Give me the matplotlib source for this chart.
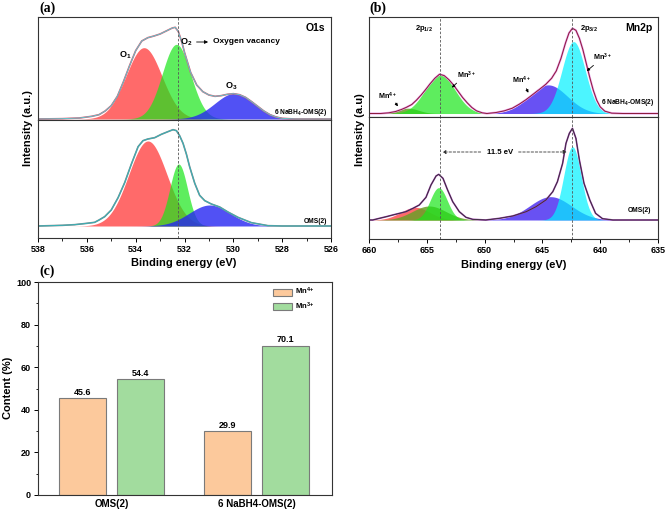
import numpy as np
import matplotlib.pyplot as plt
from matplotlib.ticker import MultipleLocator

plt.rcParams['font.family'] = 'Liberation Sans'
plt.rcParams['font.weight'] = 'bold'
plt.rcParams['mathtext.fontset'] = 'custom'
plt.rcParams['mathtext.rm'] = 'Liberation Sans:bold'
plt.rcParams['mathtext.it'] = 'Liberation Sans:bold'
plt.rcParams['mathtext.bf'] = 'Liberation Sans:bold'

# ---- O1s fitted components: centre (eV), height (a.u.), sigma (eV)
o1s_top_centre = [533.66, 532.33, 529.95]
o1s_top_height = [214, 224, 77]
o1s_top_sigma = [0.73, 0.58, 0.81]
o1s_bot_centre = [533.50, 532.24, 530.97]
o1s_bot_height = [255, 186, 63]
o1s_bot_sigma = [0.78, 0.36, 0.84]

# O1s envelopes
o1s_top_e = [538.0, 537.0, 536.3, 535.8, 535.5, 535.25, 535.0, 534.75, 534.5, 534.25,
             534.0, 533.75, 533.5, 533.25, 533.0, 532.75, 532.5, 532.38, 532.25, 532.1,
             532.0, 531.75, 531.5, 531.25, 531.0, 530.75, 530.5, 530.25, 530.0, 529.75,
             529.5, 529.25, 529.0, 528.75, 528.5, 528.25, 528.0, 527.5, 526.0]
o1s_top_i = [0, 1, 3, 8, 13, 24, 40, 68, 112, 160,
             205, 234, 244, 249, 255, 264, 273, 275, 262, 228,
             200, 140, 102, 82, 72, 68, 70, 74, 76, 73,
             65, 52, 38, 24, 13, 6, 2, 0, 0]
o1s_bot_e = [538.0, 537.0, 536.5, 536.0, 535.68, 535.5, 535.27, 535.0, 534.72, 534.45,
             534.18, 533.9, 533.7, 533.5, 533.22, 532.95, 532.68, 532.47, 532.33, 532.2,
             532.06, 531.92, 531.79, 531.58, 531.38, 531.17, 530.9, 530.56, 530.22, 529.81,
             529.26, 528.58, 528.0, 526.0]
o1s_bot_i = [0, 2, 4, 8, 11, 18, 28, 48, 85, 130,
             185, 238, 256, 261, 265, 275, 283, 289, 286, 271,
             248, 215, 178, 128, 92, 76, 66, 57, 42, 26,
             10, 1, 0, 0]

# ---- Mn2p fitted components
mn_top_centre = [656.6, 653.85, 644.5, 642.3]
mn_top_height = [16, 116, 86, 216]
mn_top_sigma = [0.9, 1.3, 1.65, 1.0]
mn_bot_centre = [656.0, 654.8, 653.97, 644.3, 642.4]
mn_bot_height = [38, 42, 97, 70, 220]
mn_bot_sigma = [1.25, 1.45, 0.74, 1.8, 0.75]

mn_top_e = [660.0, 659.0, 658.3, 657.7, 657.2, 656.8, 656.3, 655.9, 655.5, 655.1,
            654.7, 654.3, 653.9, 653.5, 653.1, 652.7, 652.3, 651.9, 651.5, 651.1,
            650.7, 650.2, 649.8, 649.0, 648.3, 647.6, 647.0, 646.4, 645.8, 645.2,
            644.7, 644.2, 643.8, 643.4, 643.0, 642.7, 642.4, 642.1, 641.8, 641.5,
            641.2, 640.9, 640.6, 640.3, 640.0, 639.6, 639.0, 638.0, 635.0]
mn_top_i = [0, 0, 2, 6, 12, 18, 27, 40, 55, 72,
            90, 106, 118, 114, 102, 86, 67, 48, 32, 18,
            8, 2, 0, 3, 8, 16, 28, 42, 58, 74,
            88, 106, 128, 165, 212, 242, 256, 250, 226, 192,
            150, 108, 70, 40, 20, 7, 1, 0, 0]
mn_bot_e = [660.0, 659.68, 659.1, 658.5, 657.95, 657.37, 656.8, 656.2, 655.65, 655.07,
            654.64, 654.2, 653.97, 653.6, 653.2, 652.76, 652.19, 651.61, 651.03, 649.9,
            648.72, 647.57, 646.4, 645.55, 644.7, 644.1, 643.7, 643.25, 642.96, 642.67,
            642.4, 642.1, 641.8, 641.4, 640.9, 640.4, 639.8, 638.9, 635.0]
mn_bot_i = [0, 0, 5, 10, 15, 20, 25, 35, 45, 68,
            105, 132, 137, 125, 90, 55, 25, 8, 2, 0,
            5, 12, 25, 40, 60, 85, 115, 170, 230, 260,
            275, 245, 180, 110, 60, 20, 4, 0, 0]

# ---- Mn valence content
samples = ['OMS(2)', '6 NaBH4-OMS(2)']
mn4_content = [45.6, 29.9]
mn3_content = [54.4, 70.1]


def gauss(x, c, h, s):
    return h * np.exp(-0.5 * ((x - c) / s) ** 2)


W, H = 666, 509


def box(x0, y0, x1, y1):
    return [x0 / W, 1 - y1 / H, (x1 - x0) / W, (y1 - y0) / H]


fig = plt.figure(figsize=(6.66, 5.09), dpi=100)
ax_a1 = fig.add_axes(box(38, 17, 331, 120))
ax_a2 = fig.add_axes(box(38, 120, 331, 238))
ax_b1 = fig.add_axes(box(369, 17, 658, 117))
ax_b2 = fig.add_axes(box(369, 117, 658, 239))
ax_c = fig.add_axes(box(38, 282, 332, 495))


def style_spec(ax, xlim, ylim, major, minor, bottom):
    ax.set_xlim(*xlim)
    ax.set_ylim(*ylim)
    ax.set_yticks([])
    for s in ax.spines.values():
        s.set_linewidth(0.8)
        s.set_color('#333333')
    ax.xaxis.set_major_locator(MultipleLocator(major))
    ax.xaxis.set_minor_locator(MultipleLocator(minor))
    if bottom:
        ax.tick_params(axis='x', which='major', direction='out', length=3, width=0.7,
                       labelsize=6.5, pad=2)
        ax.tick_params(axis='x', which='minor', direction='out', length=1.8, width=0.6)
    else:
        ax.tick_params(axis='x', which='both', bottom=False, labelbottom=False)


def draw(ax, centres, heights, sigmas, colors, alphas, env_e, env_i, under, over, lw_u, lw_o):
    x = np.linspace(min(env_e), max(env_e), 800)
    for c, h, s, col, a in zip(centres, heights, sigmas, colors, alphas):
        ax.fill_between(x, 0, gauss(x, c, h, s), color=col, alpha=a, lw=0)
    ax.plot(env_e, env_i, color=under, lw=lw_u)
    ax.plot(env_e, env_i, color=over, lw=lw_o)


RED = (1.0, 0.1, 0.1)
GREEN = (0.1, 0.9, 0.1)
BLUE = (0.15, 0.15, 0.95)
OLIVE = (0.42, 0.62, 0.16)
PURPLE = (0.3, 0.2, 0.95)
CYAN = (0.0, 0.95, 1.0)

# (a) O1s
draw(ax_a1, o1s_top_centre, o1s_top_height, o1s_top_sigma, [RED, GREEN, BLUE], [0.65, 0.7, 0.8],
     o1s_top_e, o1s_top_i, '#e8506a', '#5cc6cc', 1.2, 0.7)
draw(ax_a2, o1s_bot_centre, o1s_bot_height, o1s_bot_sigma, [RED, GREEN, BLUE], [0.65, 0.7, 0.8],
     o1s_bot_e, o1s_bot_i, '#8a8a8a', '#3aaeb4', 1.2, 0.8)
style_spec(ax_a1, (538, 526), (-3, 306), 2, 1, False)
style_spec(ax_a2, (538, 526), (-36, 318), 2, 1, True)
for ax in (ax_a1, ax_a2):
    ax.axvline(532.27, color='#555555', ls=(0, (3, 2)), lw=0.6)

ax_a1.text(534.44, 192, 'O$_1$', fontsize=6.5, ha='center', va='center')
ax_a1.text(531.94, 231, 'O$_2$', fontsize=6.5, ha='center', va='center')
ax_a1.annotate('', xy=(530.92, 231), xytext=(531.62, 231),
               arrowprops=dict(arrowstyle='-|>', color='k', lw=0.6, mutation_scale=5))
ax_a1.text(530.83, 232, 'Oxygen vacancy', fontsize=6, ha='left', va='center')
ax_a1.text(530.1, 99, 'O$_3$', fontsize=6.5, ha='center', va='center')
ax_a1.text(526.25, 273, 'O1s', fontsize=7.5, ha='right', va='center')
ax_a1.text(526.15, 18, '6 NaBH$_4$-OMS(2)', fontsize=4.8, ha='right', va='center')
ax_a2.text(526.15, 15, 'OMS(2)', fontsize=4.8, ha='right', va='center')

# (b) Mn2p
draw(ax_b1, mn_top_centre, mn_top_height, mn_top_sigma, [OLIVE, GREEN, PURPLE, CYAN],
     [0.85, 0.7, 0.85, 0.7], mn_top_e, mn_top_i, '#eaa0ea', '#8b1a3a', 1.5, 0.7)
draw(ax_b2, mn_bot_centre, mn_bot_height, mn_bot_sigma, [RED, OLIVE, GREEN, PURPLE, CYAN],
     [0.65, 0.85, 0.7, 0.85, 0.7], mn_bot_e, mn_bot_i, '#a040b0', '#303030', 1.2, 0.6)
style_spec(ax_b1, (660, 635), (-10.5, 290), 5, 2.5, False)
style_spec(ax_b2, (660, 635), (-57, 309), 5, 2.5, True)
for ax in (ax_b1, ax_b2):
    for e in (653.9, 642.4):
        ax.axvline(e, color='#555555', ls=(0, (3, 2)), lw=0.6)

arrow = dict(arrowstyle='-|>', color='k', lw=0.6, mutation_scale=4)
ax_b1.text(655.24, 256, '2p$_{1/2}$', fontsize=5.5, ha='center', va='center')
ax_b1.text(640.97, 256, '2p$_{3/2}$', fontsize=5.5, ha='center', va='center')
ax_b1.text(635.5, 256, 'Mn2p', fontsize=7.5, ha='right', va='center')
ax_b1.text(658.44, 52, 'Mn$^{4+}$', fontsize=5.2, ha='center', va='center')
ax_b1.annotate('', xy=(657.35, 15), xytext=(657.85, 38), arrowprops=arrow)
ax_b1.text(651.6, 115, 'Mn$^{3+}$', fontsize=5.2, ha='center', va='center')
ax_b1.annotate('', xy=(653.0, 72), xytext=(652.25, 97), arrowprops=arrow)
ax_b1.text(646.85, 100, 'Mn$^{4+}$', fontsize=5.2, ha='center', va='center')
ax_b1.annotate('', xy=(646.1, 55), xytext=(646.5, 82), arrowprops=arrow)
ax_b1.text(639.84, 170, 'Mn$^{3+}$', fontsize=5.2, ha='center', va='center')
ax_b1.annotate('', xy=(641.35, 122), xytext=(640.4, 150), arrowprops=arrow)
ax_b1.text(635.3, 34, '6 NaBH$_4$-OMS(2)', fontsize=4.8, ha='right', va='center')
ax_b2.text(635.6, 30, 'OMS(2)', fontsize=4.8, ha='right', va='center')
ax_b2.text(648.7, 204, '11.5 eV', fontsize=5.6, ha='center', va='center')
dash = dict(arrowstyle='-|>', color='#333333', lw=0.6, ls=(0, (3, 2)), mutation_scale=5)
ax_b2.annotate('', xy=(653.9, 204), xytext=(650.1, 204), arrowprops=dash)
ax_b2.annotate('', xy=(642.65, 204), xytext=(647.3, 204), arrowprops=dash)

# (c) bar chart
x = np.arange(len(samples))
w = 0.324
bars4 = ax_c.bar(x - 0.2, mn4_content, w, color='#fcc99c', edgecolor='#7a7a7a', lw=0.8,
                 label='Mn$^{4+}$')
bars3 = ax_c.bar(x + 0.2, mn3_content, w, color='#a2dc9e', edgecolor='#7a7a7a', lw=0.8,
                 label='Mn$^{3+}$')
for bars, vals in ((bars4, mn4_content), (bars3, mn3_content)):
    for b, v in zip(bars, vals):
        ax_c.text(b.get_x() + b.get_width() / 2, v + 0.6, f'{v:.1f}', ha='center', va='bottom',
                  fontsize=6.5)
ax_c.set_xlim(-0.507, 1.52)
ax_c.set_ylim(0, 100)
ax_c.set_xticks(x)
ax_c.set_xticklabels(samples, fontsize=7)
ax_c.tick_params(axis='x', length=0, pad=3)
ax_c.yaxis.set_major_locator(MultipleLocator(20))
ax_c.yaxis.set_minor_locator(MultipleLocator(10))
ax_c.tick_params(axis='y', which='major', direction='out', length=3, width=0.7, labelsize=6.5, pad=2)
ax_c.tick_params(axis='y', which='minor', direction='out', length=1.8, width=0.6)
for s in ax_c.spines.values():
    s.set_linewidth(0.8)
    s.set_color('#333333')
ax_c.legend(loc='upper left', bbox_to_anchor=(273 / W, 1 - 286 / H), bbox_transform=fig.transFigure,
            frameon=False, fontsize=5.5, handlelength=2.5, handleheight=1.05, handletextpad=0.4,
            labelspacing=0.4, borderpad=0, borderaxespad=0)

# figure-level labels
fig.text(28 / W, 1 - 128 / H, 'Intensity (a.u.)', rotation=90, ha='center', va='center', fontsize=8)
fig.text(360 / W, 1 - 130 / H, 'Intensity (a.u)', rotation=90, ha='center', va='center', fontsize=8)
fig.text(8 / W, 1 - 388 / H, 'Content (%)', rotation=90, ha='center', va='center', fontsize=8)
fig.text(184 / W, 1 - 263 / H, 'Binding energy (eV)', ha='center', va='center', fontsize=8)
fig.text(514 / W, 1 - 265 / H, 'Binding energy (eV)', ha='center', va='center', fontsize=8)
for lab, px, py in (('(a)', 39, 8), ('(b)', 369, 8), ('(c)', 39, 271)):
    fig.text(px / W, 1 - py / H, lab, family='Liberation Serif', fontweight='bold', fontsize=10,
             ha='left', va='center')

fig.savefig('out.png', dpi=100)
